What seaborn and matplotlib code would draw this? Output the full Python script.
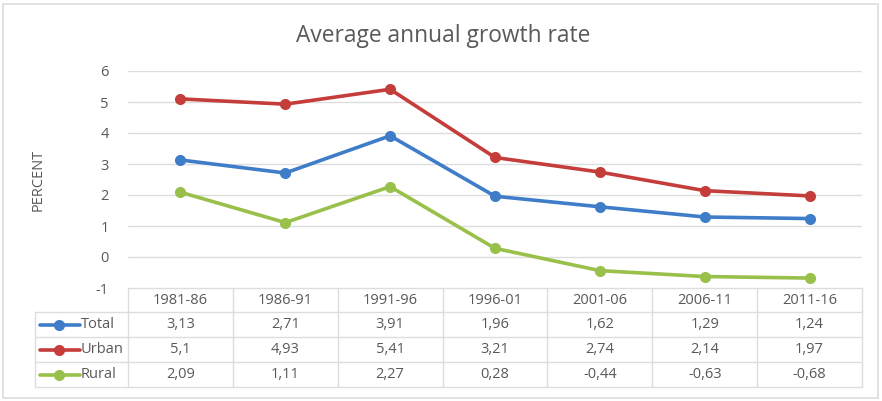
import matplotlib.pyplot as plt
import pandas as pd
import seaborn as sns
from matplotlib.patches import Rectangle

periods = ["1981-86", "1986-91", "1991-96", "1996-01", "2001-06", "2006-11", "2011-16"]
total = [3.13, 2.71, 3.91, 1.96, 1.62, 1.29, 1.24]
urban = [5.1, 4.93, 5.41, 3.21, 2.74, 2.14, 1.97]
rural = [2.09, 1.11, 2.27, 0.28, -0.44, -0.63, -0.68]
series = ["Total", "Urban", "Rural"]
colors = {"Total": "#3F7DC9", "Urban": "#C43D3A", "Rural": "#99C04A"}
yticks = [-1, 0, 1, 2, 3, 4, 5, 6]

df = pd.DataFrame({
    "period": periods * 3,
    "x": list(range(len(periods))) * 3,
    "value": total + urban + rural,
    "series": ["Total"] * 7 + ["Urban"] * 7 + ["Rural"] * 7,
})

sns.set_style("white")
plt.rcParams["font.family"] = ["Open Sans", "DejaVu Sans"]
text_c = "#595959"
grid_c = "#DDDDDD"

W, H = 882, 401
fig = plt.figure(figsize=(W / 100, H / 100), dpi=100)
fig.patches.append(Rectangle((3 / W, 3 / H), 875 / W, 394 / H, transform=fig.transFigure,
                             fill=False, edgecolor=grid_c, lw=1.2))

# main plot area
ax = fig.add_axes([128 / W, (H - 288) / H, (862 - 128) / W, (288 - 71) / H])
sns.lineplot(data=df, x="x", y="value", hue="series", hue_order=series, palette=colors,
             marker="o", markersize=8, markeredgewidth=0, linewidth=2.6, sort=False,
             legend=False, ax=ax)
ax.set_xlim(-0.5, len(periods) - 0.5)
ax.set_ylim(-1, 6)
ax.set_yticks(yticks)
ax.set_yticklabels([str(v) for v in yticks], color=text_c, fontsize=10.5)
ax.tick_params(axis="y", length=0, pad=14)
ax.set_xticks([])
ax.set_xlabel("")
ax.set_ylabel("")
for v in yticks[1:]:
    ax.axhline(v, color=grid_c, lw=1, zorder=0)
for s in ax.spines.values():
    s.set_visible(False)
fig.text(38 / W, 1 - 180 / H, "PERCENT", rotation=90, ha="center", va="center",
         color=text_c, fontsize=10.5)
fig.text(443 / W, 1 - 36 / H, "Average annual growth rate", ha="center", va="center",
         color=text_c, fontsize=16.4)

# data table below
lab_w = (128 - 35) / 105
tx = fig.add_axes([35 / W, (H - 387) / H, (862 - 35) / W, (387 - 288) / H])
tx.set_xlim(-0.5 - lab_w, len(periods) - 0.5)
row_edges = [0, 24, 49, 74, 99]
tx.set_ylim(99, 0)
tx.axis("off")
lc = dict(color=grid_c, lw=1, clip_on=False)
tx.plot([-0.5, len(periods) - 0.5], [0, 0], **lc)
for y in row_edges[1:]:
    tx.plot([-0.5 - lab_w, len(periods) - 0.5], [y, y], **lc)
tx.plot([-0.5 - lab_w] * 2, [24, 99], **lc)
for i in range(len(periods) + 1):
    tx.plot([i - 0.5] * 2, [0, 99], **lc)
for i, p in enumerate(periods):
    tx.text(i, 12, p, ha="center", va="center", color=text_c, fontsize=10.5)
rows = {"Total": total, "Urban": urban, "Rural": rural}
for r, name in enumerate(series):
    yc = (row_edges[r + 1] + row_edges[r + 2]) / 2
    x0 = -0.5 - lab_w
    tx.plot([x0 + 5 / 105, x0 + 45 / 105], [yc, yc], color=colors[name], lw=2.6, clip_on=False)
    tx.plot([x0 + 24 / 105], [yc], "o", color=colors[name], ms=8, mew=0, clip_on=False)
    tx.text(x0 + 46 / 105, yc, name, ha="left", va="center", color=text_c, fontsize=10.5)
    for i, v in enumerate(rows[name]):
        tx.text(i, yc, f"{v:g}".replace(".", ","), ha="center", va="center",
                color=text_c, fontsize=10.5)

fig.savefig("out.png", dpi=100)
